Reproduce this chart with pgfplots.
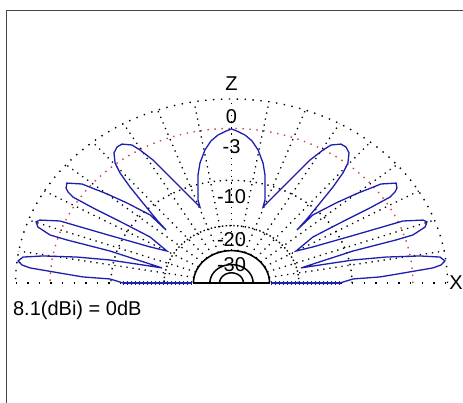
\documentclass[border=0pt]{standalone}
\usepackage{pgfplots}
\pgfplotsset{compat=1.18}
\usepackage{pgfplotstable}
\usepackage{fontspec}
\setmainfont{Liberation Sans}

\definecolor{trace}{RGB}{30,30,175}
\definecolor{halfpower}{RGB}{200,70,70}
\definecolor{framegray}{RGB}{70,70,70}

% Left half of the vertical pattern (normalised radius units, 0 dB = 1);
% the right half is the mirror image.
\pgfplotstableread{
x y
0.000 0.837
-0.025 0.826
-0.063 0.804
-0.095 0.772
-0.123 0.723
-0.146 0.652
-0.155 0.587
-0.155 0.451
-0.146 0.413
-0.192 0.467
-0.271 0.560
-0.363 0.668
-0.424 0.723
-0.461 0.750
-0.507 0.755
-0.530 0.739
-0.544 0.707
-0.539 0.652
-0.516 0.598
-0.470 0.522
-0.410 0.435
-0.345 0.342
-0.303 0.288
-0.377 0.370
-0.484 0.435
-0.576 0.484
-0.692 0.538
-0.762 0.543
-0.766 0.516
-0.757 0.495
-0.734 0.467
-0.641 0.408
-0.502 0.326
-0.377 0.250
-0.299 0.174
-0.377 0.196
-0.586 0.266
-0.794 0.337
-0.887 0.342
-0.905 0.332
-0.896 0.304
-0.840 0.261
-0.762 0.234
-0.563 0.174
-0.377 0.103
-0.322 0.082
-0.410 0.098
-0.563 0.125
-0.715 0.141
-0.873 0.147
-0.965 0.141
-0.988 0.120
-0.970 0.098
-0.933 0.082
-0.794 0.054
-0.688 0.033
-0.563 0.022
-0.502 0.000
}\lefthalf

% Low-angle ripple along the ground line
\pgfplotstableread{
x y
-0.500 0
-0.481 0
-0.463 0
-0.444 0
-0.426 0
-0.407 0
-0.389 0
-0.370 0
-0.352 0
-0.333 0
-0.315 0
-0.296 0
-0.278 0
-0.259 0
-0.241 0
-0.222 0
-0.204 0
-0.185 0
}\ripple

\begin{document}
\begin{tikzpicture}
\path[use as bounding box] (-15.5bp,-120bp) rectangle (447.5bp,283bp);
\draw[framegray, line width=1bp] (-8.5bp,-121bp) -- (-8.5bp,272.5bp) -- (448bp,272.5bp);
\begin{axis}[
  at={(0,0)}, anchor=south west,
  scale only axis, width=432bp, height=184bp,
  xmin=-1, xmax=1, ymin=0, ymax=1,
  axis lines=none, clip=false,
  font=\fontsize{20bp}{24bp}\selectfont,
]
% dB rings
\addplot[black, line width=1.4bp, dash pattern=on 1.4bp off 6.5bp, domain=0:180, samples=181] ({cos(x)},{sin(x)});
\addplot[halfpower, line width=1.4bp, dash pattern=on 1.4bp off 5.6bp, domain=0:180, samples=181] ({0.84*cos(x)},{0.84*sin(x)});
\addplot[black, line width=1.4bp, dash pattern=on 1.4bp off 4.6bp, domain=0:180, samples=181] ({0.558*cos(x)},{0.558*sin(x)});
\addplot[black, line width=1.4bp, dash pattern=on 1.4bp off 2.4bp, domain=0:180, samples=181] ({0.312*cos(x)},{0.312*sin(x)});
\addplot[black, line width=1.6bp, domain=0:180, samples=121] ({0.176*cos(x)},{0.176*sin(x)});
\addplot[black, line width=1.5bp, domain=0:180, samples=91] ({0.100*cos(x)},{0.100*sin(x)});
\addplot[black, line width=1.5bp, domain=0:180, samples=61] ({0.055*cos(x)},{0.055*sin(x)});
% spokes every 10 degrees
\pgfplotsinvokeforeach{10,20,...,170}{
  \draw[black, line width=1.3bp, dash pattern=on 1.3bp off 4.8bp]
    (axis cs:{0.176*cos(#1)},{0.176*sin(#1)}) -- (axis cs:{cos(#1)},{sin(#1)});
}
% ground line
\draw[black, line width=1.4bp, dash pattern=on 1.4bp off 10.2bp] (axis cs:-1,0) -- (axis cs:1,0);
% pattern
\addplot[trace, line width=1.3bp] table[x=x, y=y] {\lefthalf};
\addplot[trace, line width=1.3bp] table[x expr=-\thisrow{x}, y=y] {\lefthalf};
\addplot[trace, line width=1.3bp, mark=|, mark size=1.6bp, mark options={line width=0.9bp}] table[x=x, y=y] {\ripple};
\addplot[trace, line width=1.3bp, mark=|, mark size=1.6bp, mark options={line width=0.9bp}] table[x expr=-\thisrow{x}, y=y] {\ripple};
\draw[black, line width=1.6bp] (axis cs:-0.176,0) -- (axis cs:0.176,0);
% labels
\node[inner sep=0] at (axis cs:0,1.082) {Z};
\node[inner sep=0] at (axis cs:0,0.902) {0};
\node[inner sep=0] at (axis cs:0,0.739) {-3};
\node[inner sep=0] at (axis cs:0,0.467) {-10};
\node[inner sep=0] at (axis cs:0,0.234) {-20};
\node[inner sep=0] at (axis cs:0,0.098) {-30};
\node[inner sep=0] at (axis cs:1.039,0) {X};
\node[inner sep=0, anchor=west] at (axis cs:-1.012,-0.147) {8.1(dBi) = 0dB};
\end{axis}
\end{tikzpicture}
\end{document}
